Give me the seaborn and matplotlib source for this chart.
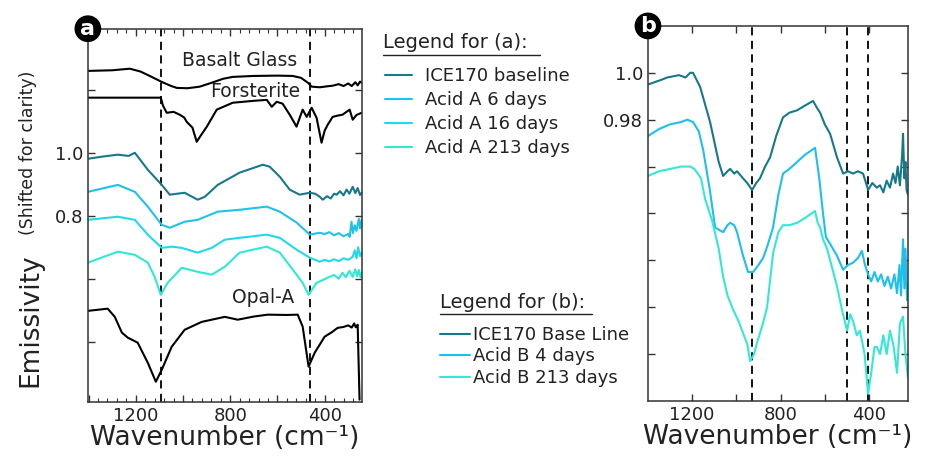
import numpy as np
import pandas as pd
import matplotlib
matplotlib.use("Agg")
import matplotlib.pyplot as plt
from matplotlib.lines import Line2D
from matplotlib.ticker import MultipleLocator, FixedLocator
import seaborn as sns

# ---------------- data: panel (a) ----------------
basalt_x = [1403, 1300, 1225, 1180, 1130, 1090, 1050, 1026, 980, 929, 880, 830, 789, 700, 600, 535, 500, 470, 455, 420, 390, 366, 340, 320, 300, 285, 270, 260, 250, 243]
basalt_y = [1.260, 1.262, 1.267, 1.258, 1.240, 1.225, 1.212, 1.206, 1.205, 1.210, 1.222, 1.235, 1.241, 1.244, 1.245, 1.244, 1.238, 1.222, 1.210, 1.208, 1.211, 1.213, 1.218, 1.212, 1.220, 1.212, 1.224, 1.214, 1.226, 1.222]

forst_x = [1403, 1200, 1094, 1085, 1069, 1040, 1014, 995, 984, 960, 942, 920, 899, 857, 789, 700, 645, 624, 603, 578, 548, 519, 493, 476, 455, 434, 413, 400, 387, 366, 345, 324, 294, 281, 265, 243]
forst_y = [1.175, 1.175, 1.175, 1.150, 1.127, 1.130, 1.121, 1.112, 1.098, 1.080, 1.035, 1.060, 1.083, 1.137, 1.159, 1.165, 1.168, 1.146, 1.162, 1.156, 1.121, 1.083, 1.137, 1.114, 1.143, 1.111, 1.032, 1.070, 1.089, 1.114, 1.118, 1.121, 1.137, 1.105, 1.120, 1.127]

opal_x = [1403, 1319, 1289, 1259, 1234, 1192, 1149, 1115, 1090, 1048, 993, 921, 823, 768, 700, 641, 560, 514, 493, 468, 442, 400, 370, 345, 320, 300, 285, 275, 268, 260, 252]
opal_y = [0.498, 0.505, 0.479, 0.429, 0.413, 0.397, 0.333, 0.273, 0.311, 0.384, 0.438, 0.463, 0.479, 0.470, 0.480, 0.486, 0.485, 0.486, 0.448, 0.321, 0.365, 0.416, 0.430, 0.444, 0.447, 0.452, 0.445, 0.458, 0.446, 0.454, 0.216]

ice_a_x = [1403, 1340, 1276, 1230, 1204, 1149, 1090, 1056, 993, 938, 908, 853, 760, 662, 633, 590, 548, 506, 463, 440, 420, 408, 390, 374, 360, 349, 335, 320, 307, 295, 281, 270, 260, 250, 243]
ice_a_y = [0.981, 0.988, 0.994, 0.990, 1.000, 0.946, 0.898, 0.867, 0.873, 0.851, 0.860, 0.898, 0.937, 0.962, 0.956, 0.924, 0.883, 0.867, 0.873, 0.870, 0.860, 0.851, 0.862, 0.855, 0.870, 0.867, 0.878, 0.865, 0.883, 0.870, 0.892, 0.872, 0.888, 0.866, 0.873]

a6_x = [1403, 1276, 1204, 1149, 1090, 1056, 993, 938, 853, 760, 645, 590, 518, 463, 421, 400, 380, 360, 340, 320, 300, 294, 286, 280, 272, 265, 255, 250, 243]
a6_y = [0.876, 0.898, 0.876, 0.829, 0.771, 0.762, 0.781, 0.787, 0.813, 0.819, 0.829, 0.813, 0.778, 0.740, 0.746, 0.742, 0.748, 0.738, 0.745, 0.735, 0.742, 0.733, 0.781, 0.745, 0.770, 0.752, 0.790, 0.760, 0.787]

a16_x = [1403, 1276, 1204, 1149, 1090, 1048, 1005, 938, 878, 823, 760, 645, 590, 518, 463, 421, 400, 380, 360, 340, 320, 300, 281, 272, 265, 258, 250, 243]
a16_y = [0.787, 0.797, 0.787, 0.740, 0.698, 0.702, 0.698, 0.683, 0.698, 0.724, 0.730, 0.740, 0.730, 0.692, 0.667, 0.654, 0.660, 0.655, 0.662, 0.656, 0.665, 0.660, 0.670, 0.690, 0.665, 0.700, 0.672, 0.683]

a213_x = [1403, 1276, 1204, 1149, 1120, 1094, 1065, 1005, 938, 878, 823, 760, 645, 590, 535, 493, 468, 434, 379, 360, 340, 324, 310, 295, 281, 270, 262, 255, 248, 243]
a213_y = [0.651, 0.686, 0.676, 0.651, 0.606, 0.549, 0.587, 0.635, 0.622, 0.613, 0.638, 0.683, 0.702, 0.683, 0.629, 0.587, 0.549, 0.587, 0.606, 0.612, 0.600, 0.619, 0.605, 0.625, 0.606, 0.630, 0.608, 0.628, 0.605, 0.619]

# ---------------- data: panel (b) ----------------
ice_b_x = [1400, 1370, 1340, 1313, 1260, 1230, 1209, 1196, 1164, 1119, 1080, 1060, 1040, 1028, 1010, 997, 970, 951, 929, 910, 893, 870, 847, 820, 789, 760, 725, 690, 653, 635, 621, 600, 576, 545, 517, 495, 472, 450, 427, 410, 404, 385, 365, 350, 335, 320, 305, 291, 280, 270, 260, 250, 246, 240, 235, 230, 224]
ice_b_y = [0.995, 0.996, 0.997, 0.998, 0.999, 0.998, 1.000, 1.000, 0.994, 0.979, 0.962, 0.956, 0.958, 0.959, 0.957, 0.958, 0.955, 0.953, 0.950, 0.953, 0.955, 0.960, 0.964, 0.973, 0.981, 0.983, 0.984, 0.986, 0.988, 0.985, 0.983, 0.978, 0.974, 0.964, 0.957, 0.958, 0.957, 0.958, 0.957, 0.952, 0.950, 0.953, 0.951, 0.952, 0.949, 0.954, 0.951, 0.957, 0.953, 0.960, 0.952, 0.965, 0.974, 0.955, 0.962, 0.950, 0.948]

b4_x = [1400, 1350, 1300, 1250, 1222, 1196, 1170, 1150, 1120, 1096, 1060, 1040, 1028, 1010, 997, 970, 947, 924, 900, 879, 860, 834, 810, 789, 760, 725, 690, 644, 625, 608, 595, 576, 545, 517, 495, 472, 450, 432, 418, 404, 390, 375, 360, 345, 330, 315, 300, 285, 273, 262, 255, 246, 240, 235, 228, 224]
b4_y = [0.973, 0.976, 0.978, 0.979, 0.980, 0.979, 0.975, 0.967, 0.950, 0.934, 0.932, 0.935, 0.936, 0.935, 0.932, 0.922, 0.915, 0.915, 0.918, 0.921, 0.926, 0.934, 0.948, 0.957, 0.959, 0.962, 0.965, 0.968, 0.955, 0.940, 0.930, 0.927, 0.922, 0.916, 0.918, 0.919, 0.921, 0.924, 0.918, 0.914, 0.911, 0.915, 0.911, 0.914, 0.909, 0.913, 0.908, 0.914, 0.906, 0.918, 0.905, 0.929, 0.908, 0.925, 0.903, 0.910]

b213_x = [1400, 1350, 1300, 1250, 1209, 1190, 1160, 1141, 1110, 1080, 1060, 1040, 1015, 990, 970, 950, 938, 920, 906, 880, 861, 834, 810, 789, 760, 725, 690, 660, 644, 632, 621, 608, 590, 570, 545, 520, 499, 485, 472, 455, 441, 420, 404, 390, 375, 364, 350, 335, 320, 305, 290, 273, 260, 246, 235, 224]
b213_y = [0.956, 0.958, 0.959, 0.960, 0.960, 0.959, 0.955, 0.946, 0.937, 0.925, 0.913, 0.905, 0.899, 0.894, 0.889, 0.884, 0.877, 0.880, 0.885, 0.893, 0.900, 0.923, 0.932, 0.935, 0.935, 0.936, 0.938, 0.940, 0.941, 0.936, 0.934, 0.929, 0.925, 0.918, 0.909, 0.898, 0.890, 0.897, 0.894, 0.888, 0.890, 0.880, 0.863, 0.872, 0.883, 0.883, 0.880, 0.888, 0.880, 0.890, 0.884, 0.872, 0.893, 0.896, 0.880, 0.870]

labels_a = ["ICE170 baseline", "Acid A 6 days", "Acid A 16 days", "Acid A 213 days"]
labels_b = ["ICE170 Base Line", "Acid B 4 days", "Acid B 213 days"]
ref_names = ["Basalt Glass", "Forsterite", "Opal-A"]
dash_a = [1092, 460]
dash_b = [930, 500, 403]

# ---------------- style ----------------
sns.set_theme(style="ticks")
plt.rcParams["font.family"] = ["DejaVu Sans"]
plt.rcParams["axes.edgecolor"] = "#333333"
plt.rcParams["axes.linewidth"] = 1.1

C_ICE = "#18788b"
C_6 = "#1fc2ea"
C_16 = "#22d8ea"
C_213 = "#2fe8d6"
C_B4 = "#1ebfee"
C_B213 = "#33e8d5"
TXT = "#222222"

fig = plt.figure(figsize=(9.25, 4.63), dpi=100)
ax_a = fig.add_axes([0.095, 0.132, 0.296, 0.806])
ax_b = fig.add_axes([0.7005, 0.134, 0.281, 0.810])

def draw(ax, xs, ys, color, label=None):
    df = pd.DataFrame({"w": xs, "e": ys})
    sns.lineplot(data=df, x="w", y="e", ax=ax, color=color, lw=1.5,
                 estimator=None, label=label, legend=False)

# panel a
draw(ax_a, basalt_x, basalt_y, "black")
draw(ax_a, forst_x, forst_y, "black")
draw(ax_a, opal_x, opal_y, "black")
draw(ax_a, ice_a_x, ice_a_y, C_ICE, labels_a[0])
draw(ax_a, a6_x, a6_y, C_6, labels_a[1])
draw(ax_a, a16_x, a16_y, C_16, labels_a[2])
draw(ax_a, a213_x, a213_y, C_213, labels_a[3])
for xd in dash_a:
    ax_a.axvline(xd, color="black", lw=1.3, ls=(0, (4.5, 3)), zorder=1)

ax_a.set_xlim(1403, 243)
ax_a.set_ylim(0.209, 1.394)
ax_a.xaxis.set_major_locator(FixedLocator([1400, 1200, 1000, 800, 600, 400]))
ax_a.set_xticklabels(["", "1200", "", "800", "", "400"])
ax_a.xaxis.set_minor_locator(MultipleLocator(40))
ax_a.set_yticks([1.2, 1.0, 0.8, 0.6, 0.4])
ax_a.set_yticklabels(["", "1.0", "0.8", "", ""])

ax_a.text(760, 1.292, ref_names[0], ha="center", va="center", fontsize=13.5, color=TXT)
ax_a.text(696, 1.194, ref_names[1], ha="center", va="center", fontsize=13.5, color=TXT)
ax_a.text(662, 0.540, ref_names[2], ha="center", va="center", fontsize=13.5, color=TXT)

# panel b
draw(ax_b, ice_b_x, ice_b_y, C_ICE, labels_b[0])
draw(ax_b, b4_x, b4_y, C_B4, labels_b[1])
draw(ax_b, b213_x, b213_y, C_B213, labels_b[2])
for xd in dash_b:
    ax_b.axvline(xd, color="black", lw=1.3, ls=(0, (4.5, 3)), zorder=1)
ax_b.set_xlim(1400, 224)
ax_b.set_ylim(0.86, 1.02)
ax_b.set_xticks([1200, 1000, 800, 600, 400])
ax_b.set_xticklabels(["1200", "", "800", "", "400"])
ax_b.set_yticks([1.0, 0.98, 0.96, 0.94, 0.92, 0.90, 0.88])
ax_b.set_yticklabels(["1.0", "0.98", "", "", "", "", ""])

for ax in (ax_a, ax_b):
    ax.tick_params(which="both", direction="in", top=True, right=True,
                   colors="#333333", labelcolor=TXT, labelsize=13)
    ax.tick_params(which="major", length=5, width=1)
    ax.tick_params(which="minor", length=3, width=0.8)
    ax.set_xlabel("Wavenumber (cm⁻¹)", fontsize=19, color=TXT, labelpad=0)
    ax.set_ylabel("")
    for s in ax.spines.values():
        s.set_visible(True)

# circled panel letters
for ax, letter in ((ax_a, "a"), (ax_b, "b")):
    ax.text(0.0, 1.0, letter, transform=ax.transAxes, ha="center", va="center",
            fontsize=16, fontweight="bold", color="white", zorder=10, clip_on=False,
            bbox=dict(boxstyle="circle,pad=0.12", fc="black", ec="black"))

# y label
fig.text(0.033, 0.309, "Emissivity", rotation=90, ha="center", va="center",
         fontsize=19, color=TXT)
fig.text(0.030, 0.671, "(Shifted for clarity)", rotation=90, ha="center", va="center",
         fontsize=12.5, color=TXT)

# legends
def legend_block(ax, labels, title, tx, ty, tw, lx, ly, hl, htp, ls):
    handles = [l for l in ax.get_lines() if l.get_label() in labels]
    handles.sort(key=lambda l: labels.index(l.get_label()))
    fig.text(tx, ty, title, ha="left", va="center", fontsize=14, color=TXT)
    fig.add_artist(Line2D([tx, tx + tw], [ty - 0.026, ty - 0.026],
                          transform=fig.transFigure, color=TXT, lw=1))
    fig.legend(handles=handles, labels=labels, loc="upper left",
               bbox_to_anchor=(lx, ly), frameon=False, fontsize=13,
               handlelength=hl, handletextpad=htp, labelspacing=ls,
               borderpad=0, borderaxespad=0, labelcolor=TXT)

legend_block(ax_a, labels_a, "Legend for (a):", 383 / 925, 1 - 43 / 463, 157 / 925,
             385 / 925, 1 - 67 / 463, 1.5, 0.72, 0.34)
legend_block(ax_b, labels_b, "Legend for (b):", 440 / 925, 1 - 302 / 463, 152 / 925,
             440 / 925, 1 - 326 / 463, 1.67, 0.17, 0.19)

fig.savefig("out.png", dpi=100)
